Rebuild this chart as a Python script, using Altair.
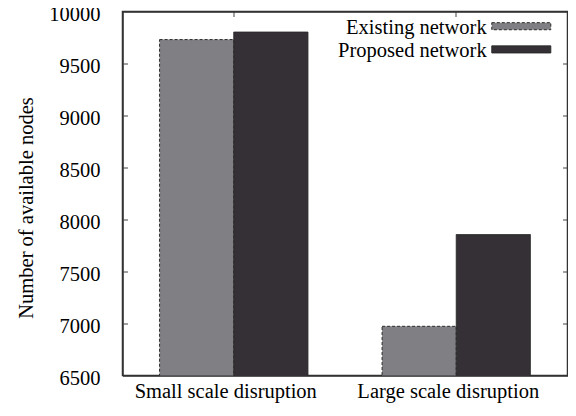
import altair as alt
import pandas as pd

categories = ["Small scale disruption", "Large scale disruption"]
series = ["Existing network", "Proposed network"]
existing = [9730, 6973]
proposed = [9802, 7855]
y_ticks = [6500, 7000, 7500, 8000, 8500, 9000, 9500, 10000]
inner_ticks = [7000, 7500, 8000, 8500, 9000, 9500]

rows = []
for i, c in enumerate(categories):
    rows.append({"category": c, "series": series[0], "value": existing[i]})
    rows.append({"category": c, "series": series[1], "value": proposed[i]})
df = pd.DataFrame(rows)
leg = pd.DataFrame({"series": series})

FONT = "Liberation Serif, Times New Roman, Times, serif"
FS = 20.5
W, H = 445, 364
fill_range = ["#807f83", "#343035"]
dash_range = [[3, 2], [1, 0]]
DOM = dict(domain=True, domainColor="#333", domainWidth=1.5)
TCK = dict(tickSize=5, tickColor="#444", tickWidth=1)


def xs():
    return alt.Scale(domain=categories, paddingInner=1 / 3, paddingOuter=1 / 6)


def ys():
    return alt.Scale(domain=[6500, 10000], nice=False, zero=False)


bars = alt.Chart(df).mark_bar(stroke="#2a2a2a", strokeWidth=1, clip=True).encode(
    x=alt.X("category:N", sort=categories, scale=xs(),
            axis=alt.Axis(title=None, labelAngle=0, ticks=False, tickSize=0, **DOM,
                          labelFont=FONT, labelFontSize=FS, labelColor="#000", labelLimit=400,
                          labelOffset=-8, labelPadding=6, labelBaseline="top")),
    xOffset=alt.XOffset("series:N", sort=series, scale=alt.Scale(paddingInner=0, paddingOuter=0)),
    y=alt.Y("value:Q", scale=ys(),
            axis=alt.Axis(title="Number of available nodes", values=y_ticks, format="d",
                          ticks=False, tickSize=0, grid=False, **DOM,
                          labelFont=FONT, labelFontSize=FS, labelColor="#000", labelPadding=22.5,
                          labelOffset=3,
                          titleFont=FONT, titleFontSize=FS, titleFontWeight="normal", titleColor="#000",
                          titleX=-90.5, titleY=196, titleBaseline="alphabetic")),
    color=alt.Color("series:N", sort=series, scale=alt.Scale(domain=series, range=fill_range), legend=None),
    strokeDash=alt.StrokeDash("series:N", sort=series, scale=alt.Scale(domain=series, range=dash_range), legend=None),
)

ticks_a = alt.Chart(df).mark_bar(opacity=0, clip=True).encode(
    x=alt.X("category:N", sort=categories, scale=xs(),
            axis=alt.Axis(orient="bottom", offset=-H, labels=False, title=None, **DOM, **TCK)),
    y=alt.Y("value:Q", scale=ys(),
            axis=alt.Axis(orient="right", offset=-W, values=inner_ticks, labels=False, domain=False,
                          grid=False, title=None, **TCK)),
)

ticks_b = alt.Chart(df).mark_bar(opacity=0, clip=True).encode(
    x=alt.X("category:N", sort=categories, scale=xs(), axis=None),
    y=alt.Y("value:Q", scale=ys(),
            axis=alt.Axis(orient="left", offset=-W, values=inner_ticks, labels=False,
                          grid=False, title=None, **DOM, **TCK)),
)

leg_y = alt.Y("series:N", sort=series,
              scale=alt.Scale(type="point", domain=series, range=[14.7, 37.9], padding=0), axis=None)

leg_sym = alt.Chart(leg).mark_point(shape="M-1,-0.12H1V0.12H-1Z", size=3481, filled=True,
                                    stroke="#2a2a2a", strokeWidth=1, opacity=1).encode(
    x=alt.value(398.8),
    y=leg_y,
    fill=alt.Fill("series:N", sort=series, scale=alt.Scale(domain=series, range=fill_range), legend=None),
    strokeDash=alt.StrokeDash("series:N", sort=series, scale=alt.Scale(domain=series, range=dash_range), legend=None),
)

leg_txt = alt.Chart(leg).mark_text(align="right", baseline="alphabetic", dy=7.5,
                                   font=FONT, fontSize=FS, color="#000").encode(
    x=alt.value(364.2),
    y=leg_y,
    text="series:N",
)

chart = alt.layer(bars, ticks_a, ticks_b, leg_sym, leg_txt).resolve_scale(
    x="independent", y="independent", color="independent", strokeDash="independent", fill="independent"
).resolve_axis(x="independent", y="independent").properties(
    width=W, height=H,
    background="white",
    autosize=alt.AutoSizeParams(type="none"),
    padding={"left": 114.5, "top": 3.5, "right": 0, "bottom": 30},
).configure_view(stroke="#333", strokeWidth=1.5)

chart.save("out.html", embed_options={"renderer": "svg", "actions": False})
